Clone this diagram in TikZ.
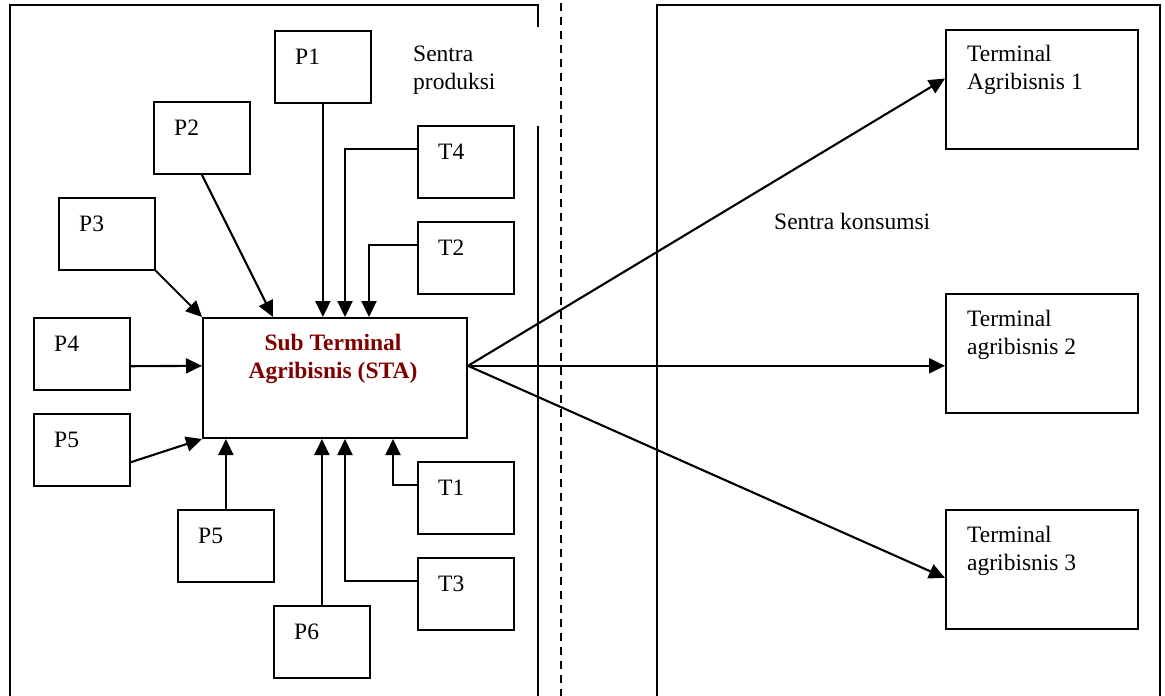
\documentclass[tikz,border=0pt]{standalone}
\usepackage{fontspec}
\setmainfont{Liberation Serif}
\usetikzlibrary{arrows.meta,calc}
\definecolor{stared}{HTML}{800000}
\begin{document}
\begin{tikzpicture}[x=1pt,y=-1pt,
  box/.style={draw,line width=1.8pt,rectangle,anchor=north west,inner sep=0pt,minimum width=96pt,minimum height=72pt},
  tbox/.style={box,minimum width=192pt,minimum height=119pt},
  lbl/.style={anchor=base west,inner sep=0pt,font=\fontsize{23.5}{28}\selectfont,align=left},
  arr/.style={line width=2.1pt,-{Triangle[length=16pt,width=15pt]}},
  panel/.style={line width=1.8pt},
]
\useasboundingbox (0,0) rectangle (1165,696);
\clip (0,0) rectangle (1165,696);
% panels
\draw[panel] (10,700) -- (10,5) -- (538,5) -- (538,27);
\draw[panel] (538,126) -- (538,700);
\draw[panel] (657,700) -- (657,5) -- (1160,5) -- (1160,700);
\draw[panel, dash pattern=on 8pt off 6pt] (561,3) -- (561,700);
\node[lbl] (sp) at (413,89) {Sentra\\produksi};
\node[lbl] (sk) at (774,229) {Sentra konsumsi};
% boxes
\node[box] (p1) at (274,30) {};
\node[box] (p2) at (153,101) {};
\node[box] (p3) at (58,197) {};
\node[box] (p4) at (33,317) {};
\node[box] (p5a) at (33,413) {};
\node[box] (p5b) at (177,509) {};
\node[box] (p6) at (273,605) {};
\node[box] (t4) at (417,125) {};
\node[box] (t2) at (417,221) {};
\node[box] (t1) at (417,461) {};
\node[box] (t3) at (417,557) {};
\node[box,line width=2pt,minimum width=264pt,minimum height=120pt] (sta) at (202,317) {};
\node[tbox] (ta1) at (945,29) {};
\node[tbox] (ta2) at (945,293) {};
\node[tbox] (ta3) at (945,509) {};
% labels
\node[lbl] at ($(p1.north west)+(21,34)$) {P1};
\node[lbl] at ($(p2.north west)+(21,34)$) {P2};
\node[lbl] at ($(p3.north west)+(21,34)$) {P3};
\node[lbl] at ($(p4.north west)+(21,34)$) {P4};
\node[lbl] at ($(p5a.north west)+(21,34)$) {P5};
\node[lbl] at ($(p5b.north west)+(21,34)$) {P5};
\node[lbl] at ($(p6.north west)+(21,34)$) {P6};
\node[lbl] at ($(t4.north west)+(21,34)$) {T4};
\node[lbl] at ($(t2.north west)+(21,34)$) {T2};
\node[lbl] at ($(t1.north west)+(21,34)$) {T1};
\node[lbl] at ($(t3.north west)+(21,34)$) {T3};
\node[lbl] at ($(ta1.north west)+(22,60)$) {Terminal\\Agribisnis 1};
\node[lbl] at ($(ta2.north west)+(22,61)$) {Terminal\\agribisnis 2};
\node[lbl] at ($(ta3.north west)+(22,61)$) {Terminal\\agribisnis 3};
\node[anchor=base,inner sep=0pt,align=center,text=stared,font=\fontsize{23.5}{28}\selectfont\bfseries] at ($(sta.north west)+(131,61)$) {Sub Terminal\\Agribisnis (STA)};
% connectors
\draw[arr] (p1.south) -- (p1.south |- sta.north);
\draw[arr] ($(t4.north west)!0.33!(t4.south west)$) -| ([xshift=143pt]sta.north west);
\draw[arr] ($(t2.north west)!0.33!(t2.south west)$) -| ([xshift=167pt]sta.north west);
\draw[arr] ($(t1.north west)!0.32!(t1.south west)$) -| ([xshift=191pt]sta.south west);
\draw[arr] ($(t3.north west)!0.33!(t3.south west)$) -| ([xshift=143pt]sta.south west);
\draw[arr] (p6.north) -- (p6.north |- sta.south);
\draw[arr] (p5b.north) -- (p5b.north |- sta.south);
\draw[arr] (p2.south) -- ([xshift=71pt]sta.north west);
\draw[arr] (p3.south east) -- (sta.north west);
\draw[arr] ($(p4.north east)!0.667!(p4.south east)$) -- ($(sta.north west)!0.4!(sta.south west)$);
\draw[arr] ($(p5a.north east)!0.667!(p5a.south east)$) -- (sta.south west);
\coordinate (out) at ($(sta.north east)!0.4!(sta.south east)$);
\draw[arr] (out) -- ($(ta1.north west)!0.41!(ta1.south west)$);
\draw[arr] (out) -- (out -| ta2.west);
\draw[arr] (out) -- ($(ta3.north west)!0.57!(ta3.south west)$);
\end{tikzpicture}
\end{document}
